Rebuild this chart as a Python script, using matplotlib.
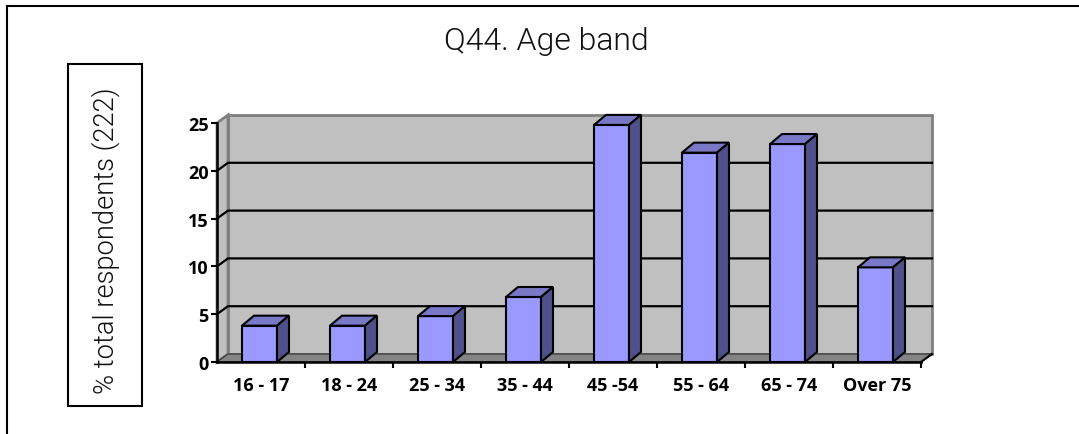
import matplotlib
matplotlib.use("Agg")
from matplotlib import pyplot as plt
from matplotlib.patches import Polygon, Rectangle
from matplotlib.lines import Line2D
import numpy as np

# chart data
categories = ["16 - 17", "18 - 24", "25 - 34", "35 - 44", "45 -54", "55 - 64", "65 - 74", "Over 75"]
values = [3.8, 3.8, 4.8, 6.8, 24.8, 21.9, 22.8, 9.9]
y_ticks = [0, 5, 10, 15, 20, 25]
title_text = "Q44. Age band"
ylabel_text = "% total respondents (222)"

W, H = 1079, 435
fig = plt.figure(figsize=(W / 100, H / 100), dpi=100)
fig.patch.set_facecolor("white")


def fx(px):
    return px / W


def fy(py):
    return 1 - py / H


# plot area in pixels (front axis corner + back wall extent)
left_px, right_px, bottom_px, top_px = 217, 932, 363, 116
unit_x = 88.0      # pixels per category
unit_y = 9.56      # pixels per value unit

ax = fig.add_axes([fx(left_px), fy(bottom_px), fx(right_px - left_px), (bottom_px - top_px) / H])
x0, x1 = -0.5, len(categories) - 0.5
ax.set_xlim(x0, x0 + (right_px - left_px) / unit_x)
ax.set_ylim(0, (bottom_px - top_px) / unit_y)
ax.patch.set_visible(False)

# depth offsets for the walls and the bars
dx, dy = 11 / unit_x, 8 / unit_y
bdx, bdy = 12 / unit_x, 10 / unit_y
ymax = y_ticks[-1]

# back wall, side wall, floor
ax.add_patch(Polygon([(x0 + dx, dy), (x1 + dx, dy), (x1 + dx, ymax + dy), (x0 + dx, ymax + dy)],
                     closed=True, facecolor="#C0C0C0", edgecolor="#808080", lw=2, zorder=1, clip_on=False))
ax.add_patch(Polygon([(x0, 0), (x0 + dx, dy), (x0 + dx, ymax + dy), (x0, ymax)],
                     closed=True, facecolor="#C0C0C0", edgecolor="#808080", lw=2, zorder=1, clip_on=False))
ax.add_patch(Polygon([(x0, 0), (x1, 0), (x1 + dx, dy), (x0 + dx, dy)],
                     closed=True, facecolor="#858585", edgecolor="#404040", lw=1, zorder=2, clip_on=False))
ax.plot([x1, x1 + dx], [0, dy], color="black", lw=1.5, zorder=2, clip_on=False)

# gridlines on the walls
for v in y_ticks[1:-1]:
    ax.plot([x0, x0 + dx, x1 + dx], [v, v + dy, v + dy], color="black", lw=1.6, zorder=2, clip_on=False)

# bars: front face, top and side
xs = np.arange(len(categories)) - 0.017
bw = 35 / unit_x
ax.bar(xs, values, width=bw, color="#9999FF", edgecolor="black", lw=1.5, zorder=4)
for x, v in zip(xs, values):
    l, r = x - bw / 2, x + bw / 2
    ax.add_patch(Polygon([(l, v), (r, v), (r + bdx, v + bdy), (l + bdx, v + bdy)],
                         closed=True, facecolor="#7878C6", edgecolor="black", lw=1.5, zorder=4, clip_on=False))
    ax.add_patch(Polygon([(r, 0), (r + bdx, bdy), (r + bdx, v + bdy), (r, v)],
                         closed=True, facecolor="#50508A", edgecolor="black", lw=1.5, zorder=4, clip_on=False))

# axes lines and ticks
for s in ["top", "right"]:
    ax.spines[s].set_visible(False)
ax.spines["left"].set_bounds(0, ymax)
ax.spines["bottom"].set_bounds(x0, x1)
for s in ["left", "bottom"]:
    ax.spines[s].set_linewidth(1.8)
    ax.spines[s].set_zorder(6)

tick_font = {"family": "Open Sans", "weight": "bold", "size": 13}
ax.set_yticks(y_ticks)
ax.set_yticklabels([str(t) for t in y_ticks], fontdict=tick_font)
ax.tick_params(axis="y", direction="out", length=4, width=1.5, pad=2)

ax.set_xticks(np.arange(len(categories)))
ax.set_xticklabels(categories, fontdict=tick_font)
ax.set_xticks(np.arange(len(categories)) + 0.5, minor=True)
ax.tick_params(axis="x", which="major", length=0, pad=10)
ax.tick_params(axis="x", which="minor", direction="out", length=4, width=1.5)

# title
fig.text(fx(546), fy(50), title_text, ha="center", va="baseline",
         family="Roboto", fontweight=300, fontsize=23, color="#111111")

# y label in a box
fig.add_artist(Rectangle((fx(68), fy(407)), fx(142 - 68), (407 - 65) / H,
                         fill=False, edgecolor="black", lw=1.5))
fig.text(fx(106), fy(241), ylabel_text, ha="center", va="center", rotation=90,
         family="Roboto", fontweight=300, fontsize=19.6, color="#111111")

# outer frame (top and left edges visible)
fig.add_artist(Line2D([fx(7), 1], [fy(7), fy(7)], color="black", lw=1.5))
fig.add_artist(Line2D([fx(7), fx(7)], [fy(7), 0], color="black", lw=1.5))

fig.savefig("out.png", dpi=100)
